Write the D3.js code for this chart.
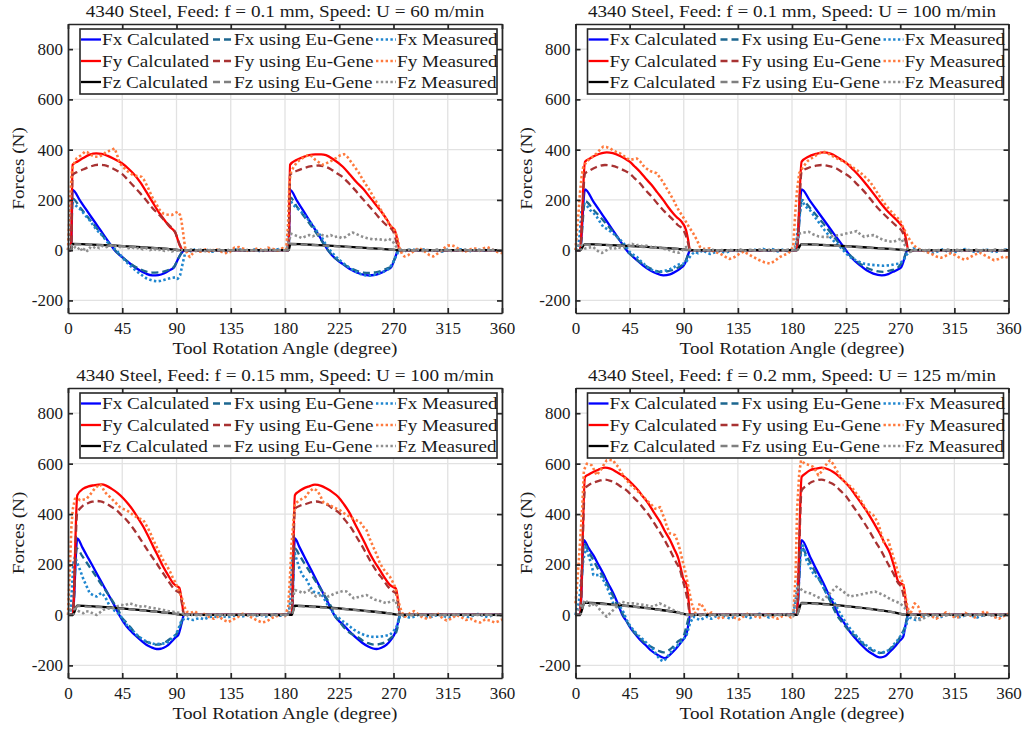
<!DOCTYPE html>
<html><head><meta charset="utf-8">
<script src="https://cdn.jsdelivr.net/npm/d3@7"></script>
<style>
body{margin:0;background:#fff}
svg{display:block}
text{font-family:"Liberation Serif","Times New Roman",serif;font-size:17px;fill:#1a1a1a}
</style></head><body>
<svg id="chart" width="1028" height="729"></svg>
<script>
// ---- tick labels / text ----
var titles = [
  "4340 Steel, Feed: f = 0.1 mm, Speed: U = 60 m/min",
  "4340 Steel, Feed: f = 0.1 mm, Speed: U = 100 m/min",
  "4340 Steel, Feed: f = 0.15 mm, Speed: U = 100 m/min",
  "4340 Steel, Feed: f = 0.2 mm, Speed: U = 125 m/min"
];
var xTicks = [0, 45, 90, 135, 180, 225, 270, 315, 360];
var yTicks = [-200, 0, 200, 400, 600, 800];
var legendLabels = ["Fx Calculated", "Fx using Eu-Gene", "Fx Measured",
                    "Fy Calculated", "Fy using Eu-Gene", "Fy Measured",
                    "Fz Calculated", "Fz using Eu-Gene", "Fz Measured"];

// ---- panel 1 : f = 0.1, U = 60 ----
var p1FxCalc = [[0,0],[2.5,0],[3.8,240],[10,197],[15,162],[20,127],[25,93],[30,58],[35,24],[38.7,0],[45,-28],[50,-48],[55,-66],[60,-82],[65,-94],[70,-100],[75,-99],[80,-92],[85,-78],[88,-68],[91,-38],[94,-12],[97,0],[183,0],[184.2,240],[190,196],[195,158],[200,120],[205,82],[210,44],[215.6,0],[220,-25],[225,-45],[230,-62],[235,-78],[240,-90],[245,-97],[249,-100],[255,-98],[260,-90],[265,-77],[268,-68],[271,-35],[274,0],[360,0]];
var p1FxEu = [[0,0],[2.5,0],[3.8,205],[10,170],[15,140],[20,110],[25,80],[30,50],[35,22],[39,0],[45,-28],[50,-48],[55,-64],[60,-76],[65,-85],[70,-89],[75,-88],[80,-84],[85,-75],[88,-66],[91,-38],[94,-12],[97,0],[183,0],[184.2,210],[190,172],[195,140],[200,108],[205,75],[210,40],[215.6,0],[220,-25],[225,-44],[230,-60],[235,-73],[240,-83],[245,-89],[250,-90],[255,-88],[260,-82],[265,-72],[268,-65],[271,-33],[274,0],[360,0]];
var p1FxMeas = [[0,0],[1,60],[2,160],[3,190],[5,185],[8,170],[11,160],[14,140],[17,125],[20,105],[23,85],[26,70],[29,55],[32,35],[35,22],[38,8],[41,-5],[44,-22],[47,-40],[50,-55],[53,-68],[56,-80],[59,-92],[62,-102],[65,-112],[68,-118],[71,-122],[74,-124],[77,-122],[80,-118],[83,-114],[86,-110],[89,-108],[91,-114],[93,-100],[95,-55],[97,-15],[99,2],[102,-5],[106,5],[110,-3],[115,2],[120,-6],[125,0],[130,-8],[135,-3],[140,5],[145,0],[150,-2],[155,3],[160,-5],[165,2],[170,0],[175,5],[180,-2],[182,5],[183.5,150],[184.5,200],[186,185],[189,170],[192,160],[195,145],[198,128],[201,112],[204,92],[207,72],[210,55],[213,30],[216,8],[219,-10],[222,-25],[226,-42],[230,-58],[234,-72],[238,-84],[242,-94],[246,-100],[250,-102],[254,-98],[258,-92],[262,-85],[266,-75],[269,-55],[272,-25],[274,-5],[277,5],[280,-3],[285,4],[290,-2],[295,3],[300,-4],[305,0],[310,-6],[315,2],[320,-3],[325,4],[330,0],[335,-5],[340,3],[345,-2],[350,4],[355,-3],[360,0]];
var p1FyCalc = [[0,0],[2.5,0],[3.8,340],[8,353],[13,368],[18,380],[23.5,385],[28,383],[33,375],[38,364],[45,345],[50,325],[54,306],[60,270],[65,232],[70,192],[76,146],[80,120],[84.3,93],[87,82],[89,70],[92.6,20],[96,0],[183,0],[184.2,340],[190,360],[195,370],[200,378],[205,381],[210,381],[214,378],[220,362],[228,332],[234,300],[239,272],[245,243],[250,213],[255,183],[261,146],[265,118],[268,93],[271,80],[273,45],[275,0],[360,0]];
var p1FyEu = [[0,0],[2.5,0],[3.8,300],[8,312],[13,322],[18,332],[25,340],[30,338],[35,330],[40,318],[45,303],[50,278],[55,252],[60,226],[65,198],[70,168],[76,139],[80,118],[84.6,96],[87,86],[89,70],[92,30],[96,0],[183,0],[184.2,300],[190,316],[196,327],[202,334],[208,337],[213,333],[218,322],[223,306],[228,290],[233,266],[238,240],[243,212],[248,185],[253,158],[257,135],[261,114],[265,96],[268,86],[270,72],[272,40],[275,0],[360,0]];
var p1FyMeas = [[0,0],[1,120],[2,220],[3,300],[4,335],[7,365],[10,375],[12,382],[14,392],[16,390],[19,379],[22,372],[26,372],[29,380],[32,392],[35,396],[38.7,405],[41,375],[43,345],[46,330],[48,319],[51,308],[54,299],[57,295],[61,292],[63,280],[66,252],[70,210],[73,186],[76,160],[79,146],[82,142],[86,140],[89,148],[91,153],[93,140],[94,120],[95.5,70],[97,13],[99,-15],[101,-27],[103,-15],[106,-2],[110,-6],[114,3],[118,-8],[122,5],[126,-3],[130,-12],[134,-8],[138,10],[142,12],[146,5],[150,-5],[154,2],[158,8],[162,-3],[166,10],[170,5],[174,-2],[178,8],[181,2],[182.5,100],[183.5,250],[184.5,305],[187,330],[190,350],[193,362],[196,370],[199,378],[202,375],[205,360],[208,350],[211,340],[214,345],[217,352],[220,360],[223,368],[226,378],[229,382],[232,370],[235,350],[238,330],[241,310],[244,285],[247,262],[250,240],[253,215],[256,190],[259,165],[262,140],[265,115],[268,95],[271,80],[273,50],[275,10],[277,-15],[279,-25],[282,-20],[285,-10],[288,0],[291,8],[294,2],[297,-10],[300,-20],[303,-25],[306,-15],[309,-5],[312,8],[315,18],[318,20],[321,15],[324,5],[327,-3],[330,-5],[333,2],[336,8],[339,5],[342,0],[345,8],[348,12],[351,5],[354,-3],[357,-8],[360,-12]];
var p1FzCalc = [[0,0],[2.5,0],[3.8,25],[20,22],[40,18],[60,12],[80,6],[96,0],[183,0],[184.5,25],[200,22],[220,17],[240,11],[260,5],[275,0],[360,0]];
var p1FzEu = [[0,0],[2.5,0],[3.8,24],[20,21],[40,17],[60,11],[80,6],[96,0],[183,0],[184.5,24],[200,21],[220,16],[240,10],[260,5],[275,0],[360,0]];
var p1FzMeas = [[0,0],[2,15],[4,22],[6,10],[8,3],[10,12],[12,-5],[14,8],[16,-3],[18,10],[20,5],[23,15],[26,8],[29,18],[32,12],[35,20],[38,14],[41,18],[44,10],[47,15],[50,8],[53,12],[56,5],[59,10],[62,3],[65,8],[68,0],[71,6],[74,-2],[77,4],[80,-3],[83,2],[86,-5],[89,0],[92,-3],[95,2],[98,-2],[102,3],[106,-3],[110,2],[114,-4],[118,1],[122,-2],[126,3],[130,-3],[134,2],[138,-1],[142,3],[146,-2],[150,2],[154,-3],[158,1],[162,-2],[166,3],[170,-1],[174,2],[178,-3],[181,0],[183,30],[185,65],[188,60],[191,55],[194,48],[197,55],[200,60],[203,55],[206,62],[209,65],[212,58],[215,55],[218,60],[221,52],[224,55],[227,48],[230,52],[233,62],[236,70],[239,65],[242,58],[245,52],[248,48],[251,45],[254,42],[257,45],[260,42],[263,40],[266,45],[269,38],[272,15],[275,2],[278,-3],[282,2],[286,-2],[290,3],[294,-3],[298,1],[302,-2],[306,3],[310,-1],[314,2],[318,-3],[322,1],[326,-2],[330,3],[334,-2],[338,1],[342,-3],[346,2],[350,-1],[354,2],[358,-2],[360,0]];

// ---- panel 2 : f = 0.1, U = 100 ----
var p2FxCalc = [[0,0],[3.7,0],[7.9,242],[15,192],[20,157],[25,122],[30,87],[35,52],[40,17],[42.5,0],[46,-18],[51,-40],[56,-60],[62,-80],[67,-92],[73,-100],[78.6,-96],[83,-86],[87,-73],[91,-53],[93.8,-15],[95.2,0],[183.9,0],[188,242],[195,196],[200,163],[205,130],[210,97],[215,64],[220,32],[224.8,0],[230,-32],[236.5,-60],[242,-80],[247.6,-93],[254.6,-100],[260,-95],[264,-86],[268,-77],[271,-66],[273,-40],[275,-7],[276,0],[360,0]];
var p2FxEu = [[0,0],[3.7,0],[7.9,195],[15,160],[20,135],[25,108],[30,80],[35,50],[40,18],[42.2,0],[46,-18],[51,-38],[56,-55],[62,-72],[67,-82],[70,-86],[75,-85],[80,-80],[84,-72],[88,-62],[91,-48],[93.5,-20],[95.2,0],[183.9,0],[188,200],[195,168],[200,140],[205,112],[210,82],[215,52],[220,22],[224,0],[230,-28],[236,-52],[242,-70],[247.6,-80],[256,-86],[262,-80],[267,-73],[270,-58],[272.6,-40],[274.5,-15],[276,0],[360,0]];
var p2FxMeas = [[0,0],[2,5],[3.5,60],[5,160],[7,186],[9,180],[12,160],[15,148],[17.6,133],[20,115],[23,93],[26,85],[29,75],[31.5,66],[34,55],[37,42],[40,27],[43,8],[45,-7],[48,-18],[51,-27],[54,-42],[57,-55],[59,-66],[62,-75],[65,-82],[67.5,-86],[70,-85],[73,-83],[75.8,-80],[79,-75],[82,-68],[84,-60],[87,-55],[91,-53],[93,-40],[95,-27],[97,-15],[99.4,-7],[102,-12],[106,0],[109,-10],[112,-15],[116,-8],[120,-3],[124,-10],[128,-5],[132,2],[136,-6],[140,0],[144,-4],[148,3],[152,-3],[156,5],[160,-2],[164,4],[168,-5],[172,2],[176,-3],[180,2],[183,5],[185,90],[186.6,146],[188,199],[191,175],[195,159],[199,132],[203,106],[207,80],[211.6,53],[216,30],[220,13],[224,-8],[228,-27],[233,-40],[239,-53],[245,-58],[250.4,-60],[256,-62],[261.5,-60],[266,-55],[269.8,-53],[273,-38],[275,-20],[278,-5],[281,7],[285,3],[289,0],[293,-8],[297,-12],[301,-5],[305,3],[309,-4],[313,-10],[317,-6],[321,2],[325,5],[329,-3],[333,-8],[337,-2],[341,4],[345,-3],[349,-8],[353,-2],[357,3],[360,0]];
var p2FyCalc = [[0,0],[3.7,0],[7.9,352],[12,365],[17,378],[22,386],[26,389],[31,386],[37,375],[41,365],[45,352],[49,334],[53.6,312],[58,287],[63.3,259],[68,230],[73,199],[77,172],[81.3,146],[84,132],[86.9,120],[89,108],[91.9,80],[93.5,45],[95.2,0],[183.9,0],[188,352],[193.6,372],[200,383],[206,389],[212,384],[217,372],[221,360],[225.5,345],[231,320],[236.5,292],[242,260],[247.6,226],[253,192],[258.7,159],[263,138],[267,120],[270,104],[272.6,86],[275,40],[276.7,0],[360,0]];
var p2FyEu = [[0,0],[3.7,0],[7.9,305],[12,318],[17,330],[24.5,339],[30,336],[37,325],[41,316],[45,305],[49,287],[53.6,266],[58,240],[63.3,213],[68,186],[73,159],[77,140],[81.3,120],[85,100],[89.7,80],[92,55],[93.8,25],[95.2,0],[183.9,0],[188,312],[194,328],[200,336],[204.7,339],[211,334],[217,325],[222,310],[228,292],[233,268],[239,239],[245,205],[250.4,173],[256,145],[261.5,120],[266,100],[269.8,86],[272,70],[274.5,35],[276.7,0],[360,0]];
var p2FyMeas = [[0,0],[1,66],[2.5,150],[3.7,226],[5,290],[6.5,332],[9,350],[12,365],[15,375],[17.6,385],[20,398],[23,412],[26,410],[28.7,405],[32,395],[35,388],[37,385],[40,375],[43,365],[45,359],[48,362],[51,365],[54,352],[56,338],[59,325],[62,315],[65,310],[67.5,306],[70,290],[73,270],[75.8,246],[79,220],[82,195],[84,173],[87,150],[91,120],[94,95],[98,66],[101,40],[103.5,13],[107,5],[111.8,7],[115,-5],[120,-13],[124,-25],[128,-35],[132,-28],[136,-15],[140,-5],[145,-20],[149,-30],[153,-40],[157,-48],[161.7,-53],[165,-45],[170,-27],[174,-18],[177,-13],[181,13],[182.5,133],[184,230],[186,306],[189.4,332],[193,355],[196,365],[200.5,379],[203,385],[206,392],[209,388],[212,379],[216,368],[220,359],[224,350],[228,339],[232,325],[236,312],[240,295],[244.9,272],[248,250],[253,213],[257,185],[261.5,159],[265,140],[269.8,120],[272,95],[275,66],[278,40],[281,20],[284,8],[288,0],[292,-7],[296,-15],[300,-25],[304,-30],[308,-22],[312,-12],[316,-20],[320,-32],[324,-38],[328,-28],[332,-18],[336,-10],[340,-20],[344,-30],[348,-40],[352,-35],[356,-25],[360,-30]];
var p2FzCalc = [[0,0],[3.7,0],[7.9,24],[25,21],[45,17],[65,11],[85,5],[95.2,0],[183.9,0],[188,24],[205,21],[225,16],[245,10],[265,4],[276.7,0],[360,0]];
var p2FzEu = [[0,0],[3.7,0],[7.9,23],[25,20],[45,16],[65,10],[85,5],[95.2,0],[183.9,0],[188,23],[205,20],[225,15],[245,9],[265,4],[276.7,0],[360,0]];
var p2FzMeas = [[0,0],[2,10],[3.7,27],[6,15],[8,7],[11,10],[14.8,13],[17,2],[20,-8],[22,-11],[24,-5],[26,0],[29,8],[32,5],[35,12],[38,8],[41,15],[44,20],[47,25],[50,18],[53,22],[56,15],[59,18],[62,12],[65,15],[68,8],[71,10],[74,5],[77,2],[78.6,0],[81,-5],[84,-8],[86,-10],[88,-3],[90,5],[92,13],[94,5],[97,0],[101,-4],[105,3],[109,-2],[113,4],[117,-3],[121,2],[125,-4],[129,1],[133,-2],[137,3],[141,-3],[145,2],[149,-1],[153,3],[157,-2],[161,2],[165,-3],[169,1],[173,-2],[177,3],[180,0],[182,5],[184,40],[186,66],[190,70],[194,73],[198,62],[202,55],[206,53],[211.6,53],[216,58],[220,60],[225,66],[229,70],[233.8,76],[237,62],[240,53],[244,58],[248,60],[252,50],[256,40],[260,36],[264,33],[268,40],[271,47],[273,25],[275,13],[278,-7],[281,-2],[285,3],[289,-2],[293,2],[297,-3],[301,1],[305,-2],[309,3],[313,-1],[317,2],[321,-3],[325,1],[329,-2],[333,2],[337,-3],[341,1],[345,-2],[349,3],[353,-1],[357,2],[360,0]];

// ---- panel 3 : f = 0.15, U = 100 ----
var p3FxCalc = [[0,0],[3.9,0],[7.7,304],[12,267],[16,232],[20,198],[25,154],[30,111],[35,68],[39,33],[42.5,0],[48.7,-46],[53,-68],[57,-86],[61,-103],[65,-118],[69,-128],[73.5,-135],[77,-134],[79,-131],[83,-120],[86,-105],[89,-90],[91.5,-79],[94.3,-33],[96.2,0],[185.5,0],[188.2,304],[192,269],[197,222],[202,176],[207,129],[212,83],[217.3,33],[220.8,0],[224,-20],[228.3,-39],[234,-68],[239.4,-92],[244,-110],[249,-125],[253,-133],[256,-135],[260,-130],[264.3,-118],[268,-98],[271.2,-72],[273.5,-35],[275.3,0],[360,0]];
var p3FxEu = [[0,0],[3.9,0],[7.2,264],[12,232],[16,204],[20,176],[25,140],[30,105],[35,70],[39,40],[42,18],[43.5,0],[48,-28],[52,-50],[57,-79],[62,-98],[67,-110],[73.5,-118],[78,-114],[81.8,-105],[86,-90],[90,-75],[93,-45],[96.2,0],[185.5,0],[188.2,264],[192,236],[197,198],[202,160],[207,122],[212,84],[217,45],[219.5,20],[221,0],[225,-25],[230,-55],[234,-72],[239.4,-85],[244,-100],[249,-112],[254.6,-118],[259,-115],[264.3,-105],[268,-90],[272,-72],[274,-35],[275.3,0],[360,0]];
var p3FxMeas = [[0,0],[2,5],[3,80],[4.4,204],[5.8,231],[7,215],[10,178],[13,139],[16,108],[18,86],[21,78],[23.8,73],[26,82],[28,88],[31,70],[34.8,33],[37,22],[40,13],[43,0],[46,-20],[48.7,-39],[52,-55],[55,-68],[57,-79],[60,-90],[63,-100],[65,-105],[68,-110],[71,-114],[73.5,-116],[77,-114],[81.8,-112],[85,-100],[88,-85],[90,-72],[92,-50],[94.3,-20],[97,-15],[98.4,-13],[101,-18],[104,-20],[107,-15],[110,-13],[113,-18],[116,-10],[120,-5],[124,-8],[128,-3],[132,-10],[136,-5],[140,0],[144,-6],[148,-2],[152,3],[156,-4],[160,0],[164,-6],[168,-2],[172,2],[176,-3],[180,0],[183,2],[184.5,60],[186,218],[187.5,257],[189,230],[192.4,178],[195,155],[198,139],[201,110],[203.4,93],[206,88],[209,86],[212,70],[214,50],[217.3,27],[220,10],[222,-5],[225,-13],[228,-25],[231,-35],[233.9,-46],[237,-58],[240,-66],[242.2,-72],[246,-80],[250.4,-86],[254,-87],[258.7,-86],[263,-83],[267,-79],[270,-65],[272.6,-46],[274,-25],[275.3,-7],[278,-5],[280.9,-7],[284,-12],[288,-5],[292,3],[296,-6],[300,-10],[304,-4],[308,2],[312,-5],[316,-10],[320,-4],[324,3],[328,-2],[332,-8],[336,-3],[340,4],[344,-3],[348,-8],[352,-2],[356,3],[360,0]];
var p3FyCalc = [[0,0],[3.9,0],[7.7,475],[12.7,501],[17,510],[21,514],[28,518],[32,512],[36,501],[41,484],[46,462],[50,440],[54,415],[58,385],[62.5,350],[67,308],[70.8,270],[75,230],[79,191],[83,158],[87.4,125],[90,115],[92.3,108],[94.3,60],[96.2,0],[185.5,0],[188.2,475],[191,488],[195.2,501],[200,510],[204.8,517],[210,512],[214.5,501],[219,488],[224.2,468],[229,438],[233.9,402],[238,362],[242.2,323],[246,287],[250.4,244],[254,213],[258.7,178],[263,145],[267,119],[270,110],[272,105],[273.8,55],[275.3,0],[360,0]];
var p3FyEu = [[0,0],[3.9,0],[7.7,410],[8.6,415],[12,432],[16.9,444],[20,449],[23.8,452],[27,450],[30.7,444],[35,432],[40.4,415],[44,398],[48.7,376],[53,350],[57,323],[61,294],[65,264],[69,235],[73.5,205],[77.5,175],[81.8,145],[85,122],[88.7,99],[92.9,86],[94.5,45],[96.2,0],[185.5,0],[188.2,421],[192,432],[197.9,441],[202,447],[206.2,450],[211,444],[215.9,435],[220,420],[225.6,402],[230,375],[235.2,343],[239,312],[243.5,277],[247.5,242],[251.8,205],[256,173],[261.5,139],[265,115],[269.8,93],[272,85],[273.8,45],[275.3,0],[360,0]];
var p3FyMeas = [[0,0],[1,120],[1.7,204],[2.8,349],[4,420],[5.8,461],[8,462],[10,455],[13,458],[15.5,461],[18,475],[21,494],[23,505],[26.5,518],[28,510],[30.5,488],[33,475],[34.8,468],[38,452],[41,438],[43,428],[46,420],[48.7,415],[51,408],[54,396],[58,385],[62.5,376],[65,355],[68,329],[70.5,300],[73.5,270],[76,245],[79,217],[82,195],[84.6,172],[86.5,152],[88.7,132],[90.8,110],[92.9,86],[95,60],[96.5,33],[98.4,13],[102,9],[105,15],[109.5,0],[113,4],[117,-8],[121,-15],[125,-5],[129,-20],[133,-28],[137,-18],[141,-8],[145,5],[149,-2],[153,-12],[157,-22],[161,-30],[165,-25],[169,-12],[173,-5],[177,2],[180,-5],[182.7,33],[184,140],[185.5,284],[188.2,441],[192,455],[197,468],[200,488],[203.4,501],[206,495],[207.5,488],[210,465],[211.7,448],[215,440],[217.3,435],[221,425],[225.6,415],[230,400],[234,389],[238,378],[242.2,369],[245,350],[247.7,336],[250.5,300],[253.2,270],[256,240],[258.7,205],[262,180],[264.5,165],[267,152],[270,125],[271.2,112],[273,75],[275.3,33],[277,10],[279.5,-7],[283.6,7],[287,15],[290,5],[294,-10],[298,-15],[302,-5],[306,8],[310,-10],[314,-22],[318,-15],[322,0],[326,-8],[330,-20],[334,-15],[338,-25],[342,-30],[346,-18],[350,-22],[354,-30],[357,-25],[360,-18]];
var p3FzCalc = [[0,0],[3.9,0],[7.7,37],[25,33],[45,26],[65,17],[85,7],[96.2,0],[185.5,0],[188.2,37],[205,33],[225,26],[245,17],[265,7],[275.3,0],[360,0]];
var p3FzEu = [[0,0],[3.9,0],[7.7,35],[25,31],[45,25],[65,16],[85,7],[96.2,0],[185.5,0],[188.2,35],[205,31],[225,25],[245,16],[265,7],[275.3,0],[360,0]];
var p3FzMeas = [[0,0],[1.5,15],[3,27],[7.2,20],[10,12],[12.7,7],[15,15],[18,13],[21,5],[23.8,0],[26,8],[29,20],[33,25],[37.6,27],[41,35],[44,40],[47,38],[51,46],[55,40],[59,33],[63,36],[67,30],[71,27],[75,24],[79,20],[83,16],[87,13],[90,10],[94,7],[97,3],[100,-3],[104,2],[108,-3],[112,1],[116,-2],[120,3],[124,-2],[128,1],[132,-3],[136,2],[140,-1],[144,3],[148,-2],[152,1],[156,-3],[160,2],[164,-1],[168,3],[172,-2],[176,1],[180,-2],[183,5],[185.5,50],[188.2,99],[192,93],[195,86],[198,95],[201,99],[203.4,80],[206,73],[210,79],[213,85],[216,73],[219,80],[221.4,86],[225,90],[228,95],[231,93],[234,80],[237,66],[240,70],[244,75],[247.7,79],[251,70],[255,60],[259,55],[264.3,46],[268,55],[271.2,60],[273,40],[275.3,7],[278,-3],[282,2],[286,-2],[290,3],[294,-3],[298,1],[302,-2],[306,2],[310,-3],[314,1],[318,-2],[322,3],[326,-1],[330,2],[334,-3],[338,1],[342,-2],[346,2],[350,-3],[354,1],[358,-2],[360,0]];

// ---- panel 4 : f = 0.2, U = 125 ----
var p4FxCalc = [[0,0],[3.7,0],[7,297],[10.5,268],[14.8,237],[19,200],[23,165],[27,126],[31.4,86],[35.6,40],[39,0],[42,-22],[45,-46],[49,-72],[53.6,-98],[58,-118],[62,-138],[66,-152],[70.3,-164],[74.4,-171],[78,-160],[81.3,-145],[85,-125],[88.3,-105],[92.4,-72],[94,-35],[95.2,0],[183.9,0],[188,297],[195,231],[199,192],[203.3,152],[207,117],[210,86],[213,58],[215.7,33],[218.5,0],[222,-22],[225.4,-46],[229,-72],[233.7,-98],[238,-120],[242,-138],[247,-155],[251.8,-167],[254,-168],[257.3,-164],[261,-148],[265.6,-125],[269,-105],[272.5,-86],[274,-50],[275.3,-20],[276.5,0],[360,0]];
var p4FxEu = [[0,0],[3.7,0],[7,284],[11,250],[14.8,218],[19,180],[23,152],[27,115],[31.4,73],[35,38],[39.7,0],[43,-28],[47,-58],[53.6,-92],[58,-112],[64.7,-131],[69,-142],[73,-148],[77,-142],[81.3,-125],[85,-106],[89.7,-86],[92.5,-40],[95.2,0],[183.9,0],[188,270],[192,236],[196,200],[200,164],[204,128],[208,90],[212,52],[215,22],[217.3,0],[221,-25],[226,-55],[230,-75],[233.7,-86],[238,-110],[244,-132],[250.4,-148],[254,-150],[258.7,-145],[263,-128],[267,-112],[270,-85],[274,-46],[276.5,0],[360,0]];
var p4FxMeas = [[0,0],[1,20],[2.5,45],[3.7,86],[5,160],[6.5,218],[8.7,270],[10,250],[12,218],[14,185],[14.8,159],[17,158],[20.4,159],[23,140],[25.9,112],[28,90],[31.4,46],[34,40],[37,33],[40,10],[42.5,-20],[45,-40],[48,-59],[52,-80],[56.4,-98],[60,-115],[64.7,-138],[67,-155],[70.3,-177],[73,-184],[75,-175],[78.6,-151],[82,-132],[86.9,-112],[90,-95],[92.4,-79],[95.2,-33],[98,-7],[101,-15],[103.5,-20],[107,-12],[109,-7],[113,-15],[117,-5],[121,2],[125,-8],[129,-15],[133,-5],[137,3],[141,-5],[145,-12],[149,-2],[153,5],[157,-3],[161,-10],[165,-4],[169,3],[173,-2],[177,5],[181,0],[183.9,86],[186.6,218],[188.8,284],[192,218],[197.7,165],[203,139],[208.8,86],[214,60],[219.9,7],[224,-25],[228.2,-53],[232,-75],[236.5,-98],[240,-115],[244.8,-131],[248,-140],[253,-151],[256,-148],[261.5,-138],[264,-120],[267,-105],[269.5,-88],[272.5,-72],[275,-40],[276.7,-7],[280,-15],[283,-20],[286.5,-13],[290,-5],[294,3],[298,-6],[302,-12],[306,-4],[310,4],[314,-3],[318,-10],[322,-5],[326,2],[330,-4],[334,-10],[338,-3],[342,4],[346,-2],[350,-8],[354,-3],[358,2],[360,0]];
var p4FyCalc = [[0,0],[3.7,0],[7.9,547],[11,557],[14.8,567],[19,576],[24.5,584],[29,580],[34.2,567],[38,556],[42.5,541],[47,520],[52.2,494],[56,470],[60.6,442],[65,408],[70.3,369],[74,335],[78.6,297],[82,262],[85.5,224],[88,175],[89.5,145],[92.4,119],[94,60],[95.2,0],[183.9,0],[188,547],[191,560],[195,574],[200,580],[204.6,584],[210,578],[214.3,567],[219,550],[224,527],[229,500],[233.7,468],[238,440],[243.4,402],[248,365],[253,323],[257,285],[261.5,244],[265,190],[268.4,132],[270.5,125],[272.5,119],[274.5,60],[276.7,0],[360,0]];
var p4FyEu = [[0,0],[3.7,0],[7.9,501],[11,515],[16.2,527],[20,533],[24.5,537],[29,532],[34.2,520],[38,508],[42.5,494],[47,472],[52.2,448],[57,420],[62,389],[67,352],[71.6,317],[76,280],[80,244],[83.5,210],[86.9,178],[89,140],[91,106],[93.5,50],[95.2,0],[183.9,0],[188,494],[192,512],[196.3,527],[200,533],[204.6,537],[210,528],[215.7,514],[220,494],[225.4,468],[230,436],[235,402],[240,366],[244.8,329],[249.5,290],[254.5,251],[259,210],[264.2,165],[268,128],[271.2,106],[274,50],[276.7,0],[360,0]];
var p4FyMeas = [[0,46],[1,100],[2.8,218],[5.5,415],[7,574],[9.5,600],[11,598],[13.6,593],[16,570],[17.7,554],[20,570],[21.8,580],[24,600],[25.9,613],[28,615],[31.4,613],[33,600],[35.6,587],[38,565],[42.5,534],[46,515],[50.9,494],[55,475],[59.2,455],[63,438],[66,422],[68,420],[70.3,428],[72,405],[74.4,376],[76,350],[78.6,323],[80.5,320],[82.7,317],[85,290],[86.9,257],[89,215],[91,178],[93.8,112],[96.6,46],[99.4,7],[102,25],[103.3,46],[106,33],[108,15],[110.4,0],[113,10],[117,-5],[120,-15],[124,-8],[128,5],[132,-10],[136,-18],[140,-5],[144,8],[148,-3],[152,-12],[156,-5],[160,3],[164,-8],[168,-15],[172,-5],[176,0],[179,-10],[181,-7],[183,152],[184.2,415],[186,561],[187.5,613],[190.5,600],[194,595],[197.7,587],[200,570],[201.9,554],[204,565],[206,580],[209,600],[211.6,613],[214,600],[217,574],[220,550],[222.6,534],[226,518],[229.6,507],[233,485],[236.5,461],[239,440],[242,415],[247.6,396],[251,370],[252.6,349],[256,290],[258,293],[260,297],[262,265],[264.2,231],[268.4,165],[272.5,125],[275.3,46],[278,0],[282,46],[285,33],[287.8,-7],[292,7],[296,-5],[300,-15],[304,-3],[308,10],[312,0],[316,-12],[320,-5],[324,8],[328,-2],[332,-10],[336,2],[340,15],[344,5],[348,-8],[352,-15],[356,-5],[360,5]];
var p4FzCalc = [[0,0],[3.7,0],[7.5,49],[25,44],[45,35],[65,24],[85,10],[95.2,0],[183.9,0],[188,48],[205,44],[225,35],[245,24],[265,10],[276.7,0],[360,0]];
var p4FzEu = [[0,0],[3.7,0],[7.5,47],[25,42],[45,34],[65,23],[85,10],[95.2,0],[183.9,0],[188,46],[205,42],[225,34],[245,23],[265,10],[276.7,0],[360,0]];
var p4FzMeas = [[0,0],[2,15],[4.1,33],[8.3,60],[12.2,33],[16.2,46],[20.4,20],[25.9,-7],[30,13],[34.2,33],[38.4,53],[42.5,46],[48,46],[56.4,40],[64.7,33],[70,46],[75.8,33],[84,13],[92.4,0],[96,-5],[100,3],[104,-2],[108,4],[112,-3],[116,2],[120,-4],[124,1],[128,-2],[132,3],[136,-3],[140,2],[144,-1],[148,3],[152,-2],[156,2],[160,-3],[164,1],[168,-2],[172,3],[176,-1],[181,-5],[183.3,60],[185.2,112],[189.4,93],[195,86],[200.5,73],[206,60],[211.6,86],[217,112],[222.6,93],[228,73],[235,79],[242,86],[249,93],[256,79],[262.8,60],[270,46],[275.3,20],[281,-7],[286.5,-20],[292,-7],[296,2],[300,-4],[304,3],[308,-2],[312,2],[316,-3],[320,1],[324,-2],[328,3],[332,-1],[336,2],[340,-3],[344,1],[348,-2],[352,3],[356,-1],[360,0]];

var panelSeries = [
  [p1FxCalc, p1FxEu, p1FxMeas, p1FyCalc, p1FyEu, p1FyMeas, p1FzCalc, p1FzEu, p1FzMeas],
  [p2FxCalc, p2FxEu, p2FxMeas, p2FyCalc, p2FyEu, p2FyMeas, p2FzCalc, p2FzEu, p2FzMeas],
  [p3FxCalc, p3FxEu, p3FxMeas, p3FyCalc, p3FyEu, p3FyMeas, p3FzCalc, p3FzEu, p3FzMeas],
  [p4FxCalc, p4FxEu, p4FxMeas, p4FyCalc, p4FyEu, p4FyMeas, p4FzCalc, p4FzEu, p4FzMeas]
];

// styles, in legend order (row-major)
var colors = ["#0000ff", "#1d6790", "#1f86cf", "#ff0000", "#a83232", "#ff7a3d", "#000000", "#7f7f7f", "#8f8f8f"];
var dashes = ["none", "7,4", "2.4,2.4", "none", "7,4", "2.4,2.4", "none", "7,4", "2.4,2.4"];
var widths = [2.3, 2.3, 2.6, 2.3, 2.3, 2.6, 2.3, 2.3, 2.6];

var svg = d3.select("#chart");

// axes boxes
var boxes = [
  {x0: 68, x1: 502, y0: 24, y1: 313},
  {x0: 575.5, x1: 1008.5, y0: 24, y1: 313},
  {x0: 68, x1: 502, y0: 388, y1: 678},
  {x0: 575.5, x1: 1008.5, y0: 388, y1: 678}
];

// computer-modern is wider than Times; stretch text to match
var probe = svg.append("text").text("Fx Calculated");
var k = 107 / probe.node().getComputedTextLength();
probe.remove();
function stretch(sel) {
  sel.each(function() {
    var w = this.getComputedTextLength();
    d3.select(this).attr("textLength", w * k).attr("lengthAdjust", "spacingAndGlyphs");
  });
}

boxes.forEach(function(b, pi) {
  var x = d3.scaleLinear().domain([0, 360]).range([b.x0, b.x1]);
  var y = d3.scaleLinear().domain([-250, 900]).range([b.y1, b.y0]);
  var g = svg.append("g");

  // grid
  g.selectAll(".gx").data(xTicks).enter().append("line")
    .attr("x1", d => x(d)).attr("x2", d => x(d)).attr("y1", b.y0).attr("y2", b.y1)
    .attr("stroke", "#e2e2e2").attr("stroke-width", 1.3);
  g.selectAll(".gy").data(yTicks).enter().append("line")
    .attr("x1", b.x0).attr("x2", b.x1).attr("y1", d => y(d)).attr("y2", d => y(d))
    .attr("stroke", "#e2e2e2").attr("stroke-width", 1.3);

  // lines
  var line = d3.line().x(d => x(d[0])).y(d => y(d[1]));
  panelSeries[pi].forEach(function(s, si) {
    var isMeas = si % 3 == 2;
    g.append("path").datum(s)
      .attr("d", line.curve(isMeas ? d3.curveLinear : d3.curveMonotoneX))
      .attr("fill", "none")
      .attr("stroke", colors[si])
      .attr("stroke-width", widths[si])
      .attr("stroke-dasharray", dashes[si])
      .attr("stroke-linejoin", "round");
  });

  // axes (ticks point inward)
  var ax = [
    d3.axisBottom(x).tickValues(xTicks).tickSize(-5).tickSizeOuter(0).tickPadding(8.5).tickFormat(d => d),
    d3.axisTop(x).tickValues(xTicks).tickSize(-5).tickSizeOuter(0).tickFormat(""),
    d3.axisLeft(y).tickValues(yTicks).tickSize(-5).tickSizeOuter(0).tickPadding(5).tickFormat(d => String(d)),
    d3.axisRight(y).tickValues(yTicks).tickSize(-5).tickSizeOuter(0).tickFormat("")
  ];
  var pos = ["translate(0," + b.y1 + ")", "translate(0," + b.y0 + ")", "translate(" + b.x0 + ",0)", "translate(" + b.x1 + ",0)"];
  ax.forEach(function(a, i) {
    var ag = g.append("g").attr("transform", pos[i]).call(a);
    ag.selectAll("path,line").attr("stroke", "#262626").attr("stroke-width", 1.7);
    ag.selectAll("text").attr("fill", "#1a1a1a").attr("font-size", 17)
      .attr("font-family", '"Liberation Serif","Times New Roman",serif');
  });

  // title and labels
  var cx = (b.x0 + b.x1) / 2;
  g.append("text").attr("x", cx).attr("y", b.y0 - 7).attr("text-anchor", "middle").text(titles[pi]).call(stretch);
  g.append("text").attr("x", cx).attr("y", b.y1 + 41).attr("text-anchor", "middle").text("Tool Rotation Angle (degree)").call(stretch);
  g.append("text").attr("transform", "translate(" + (b.x0 - 44) + "," + ((b.y0 + b.y1) / 2) + ") rotate(-90)")
    .attr("text-anchor", "middle").text("Forces (N)").call(stretch);

  // legend
  var lx = b.x0 + 12, ly = b.y0 + 5;
  var lg = g.append("g");
  lg.append("rect").attr("x", lx).attr("y", ly).attr("width", b.x1 - 5 - lx).attr("height", 65)
    .attr("fill", "#fff").attr("stroke", "#262626").attr("stroke-width", 1.6);
  var colOff = [1, 133, 296];
  var rowOff = [10.5, 32, 53];
  legendLabels.forEach(function(lab, i) {
    var c = i % 3, r = Math.floor(i / 3);
    var sx = lx + colOff[c], sy = ly + rowOff[r];
    lg.append("line").attr("x1", sx).attr("x2", sx + 20).attr("y1", sy).attr("y2", sy)
      .attr("stroke", colors[i]).attr("stroke-width", widths[i]).attr("stroke-dasharray", dashes[i]);
    lg.append("text").attr("x", sx + 21).attr("y", sy + 5.5).text(lab).call(stretch);
  });
});
</script>
</body></html>
